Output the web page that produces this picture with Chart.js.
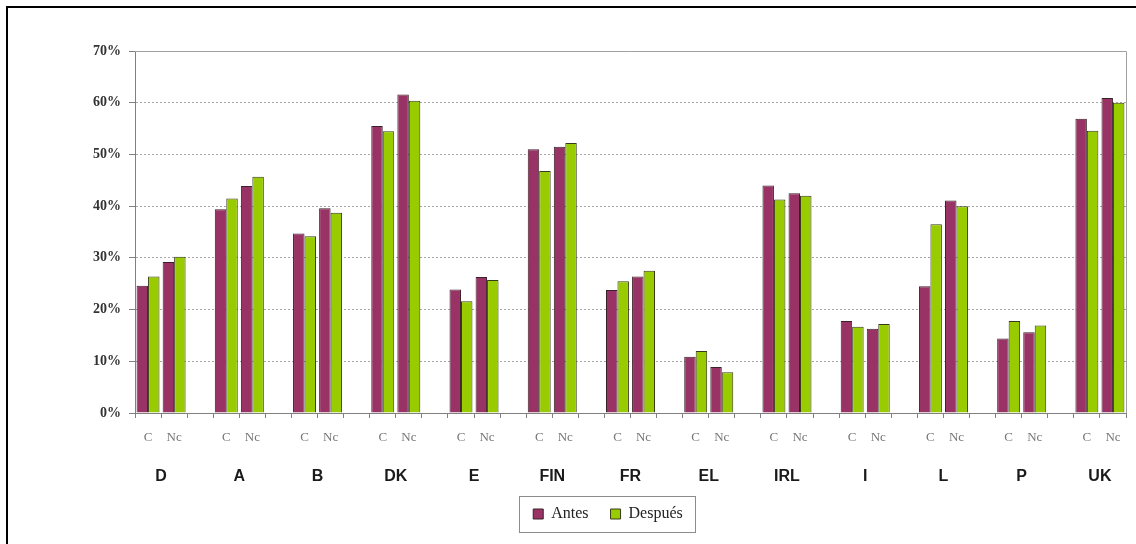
<!DOCTYPE html>
<html>
<head>
<meta charset="utf-8">
<script src="https://cdn.jsdelivr.net/npm/chart.js@4"></script>
<style>
  html, body { margin: 0; padding: 0; background: #fff; }
  #wrap { position: relative; width: 1136px; height: 544px; }
  #frame { position: absolute; left: 6px; top: 6px; right: 0; bottom: 0;
           border-left: 2px solid #000; border-top: 2px solid #000; pointer-events: none; }
</style>
</head>
<body>
<div id="wrap"><canvas id="chart"></canvas><div id="frame"></div></div>
<script>
const countries = ['D', 'A', 'B', 'DK', 'E', 'FIN', 'FR', 'EL', 'IRL', 'I', 'L', 'P', 'UK'];
const groups = ['C', 'Nc'];
const yTicks = [0, 10, 20, 30, 40, 50, 60, 70];

// % per country
const antesC    = [24.6, 39.4, 34.7, 55.5, 23.9, 51.0, 23.8, 10.9, 44.0, 17.8, 24.5, 14.4, 56.9];
const despuesC  = [26.4, 41.5, 34.2, 54.5, 21.6, 46.8, 25.5, 12.0, 41.3, 16.7, 36.5, 17.8, 54.6];
const antesNc   = [29.2, 43.9, 39.6, 61.6, 26.3, 51.5, 26.4,  8.9, 42.5, 16.3, 41.1, 15.6, 60.9];
const despuesNc = [30.2, 45.7, 38.7, 60.4, 25.7, 52.2, 27.5,  7.9, 42.0, 17.2, 40.0, 16.9, 60.0];

// C, Nc and an empty slot between countries
const labels = [], antes = [], despues = [];
countries.forEach((c, i) => {
  labels.push(groups[0], groups[1]);
  antes.push(antesC[i], antesNc[i]);
  despues.push(despuesC[i], despuesNc[i]);
  if (i < countries.length - 1) {
    labels.push('');
    antes.push(null);
    despues.push(null);
  }
});

const plotFrame = {
  id: 'plotFrame',
  beforeDatasetsDraw(chart) {
    const { ctx, chartArea: a } = chart;
    ctx.save();
    ctx.strokeStyle = '#a0a0a0';
    ctx.lineWidth = 1;
    ctx.beginPath();
    ctx.moveTo(a.left, a.top + 0.5);
    ctx.lineTo(a.right + 0.5, a.top + 0.5);
    ctx.lineTo(a.right + 0.5, a.bottom);
    ctx.stroke();
    ctx.restore();
  },
  afterDraw(chart) {
    const hb = chart.legend.legendHitBoxes;
    if (!hb || !hb.length) return;
    const first = hb[0], last = hb[hb.length - 1];
    const ctx = chart.ctx;
    ctx.save();
    ctx.strokeStyle = '#8c8c8c';
    ctx.lineWidth = 1;
    const x1 = Math.round(first.left - 14) + 0.5;
    const x2 = Math.round(last.left + last.width + 12) + 0.5;
    const y1 = Math.round(first.top - 10) + 0.5;
    const y2 = Math.round(first.top + first.height + 10) + 0.5;
    ctx.strokeRect(x1, y1, x2 - x1, y2 - y1);
    ctx.restore();
  }
};

new Chart(document.getElementById('chart'), {
  type: 'bar',
  data: {
    labels: labels,
    datasets: [
      { label: 'Antes', data: antes, backgroundColor: '#993366', borderColor: '#3a2228', borderWidth: 1 },
      { label: 'Después', data: despues, backgroundColor: '#99cc00', borderColor: '#3a3a1a', borderWidth: 1 }
    ]
  },
  options: {
    responsive: true,
    maintainAspectRatio: false,
    animation: false,
    layout: { padding: { left: 90, right: 10, top: 51, bottom: 12 } },
    datasets: { bar: { categoryPercentage: 0.88, barPercentage: 1.0 } },
    plugins: {
      tooltip: { enabled: false },
      legend: {
        position: 'bottom',
        labels: {
          boxWidth: 10, boxHeight: 10, padding: 22, color: '#222',
          font: { family: 'Liberation Serif', size: 16 }
        }
      }
    },
    scales: {
      x: {
        weight: 0,
        offset: true,
        ticks: { autoSkip: false, maxRotation: 0, color: '#777', padding: 12,
                 font: { family: 'Liberation Serif', size: 13 } },
        grid: { offset: true, drawOnChartArea: false, tickLength: 5, color: '#808080' },
        border: { color: '#808080' },
        afterFit: s => { s.height = 42; }
      },
      x2: {
        type: 'linear',
        position: 'bottom',
        weight: 1,
        offset: false,
        min: 0,
        max: labels.length,
        afterBuildTicks: s => { s.ticks = countries.map((c, i) => ({ value: 3 * i + 1 })); },
        ticks: { autoSkip: false, maxRotation: 0, color: '#1a1a1a', padding: 12,
                 callback: v => countries[Math.round((v - 1) / 3)],
                 font: { family: 'Liberation Sans', size: 16, weight: 'bold' } },
        grid: { display: false, drawTicks: false, offset: false },
        border: { display: false },
        afterFit: s => { s.height = 29; }
      },
      y: {
        min: 0,
        max: 70,
        afterBuildTicks: s => { s.ticks = yTicks.map(v => ({ value: v })); },
        ticks: { callback: v => v + '%', color: '#333', padding: 8,
                 font: { family: 'Liberation Serif', size: 14, weight: 'bold' } },
        grid: { color: '#a8a8a8', tickColor: '#808080', tickLength: 6 },
        border: { color: '#808080', dash: [2, 2] },
        afterFit: s => { s.width = 45; }
      }
    }
  },
  plugins: [plotFrame]
});
</script>
</body>
</html>
